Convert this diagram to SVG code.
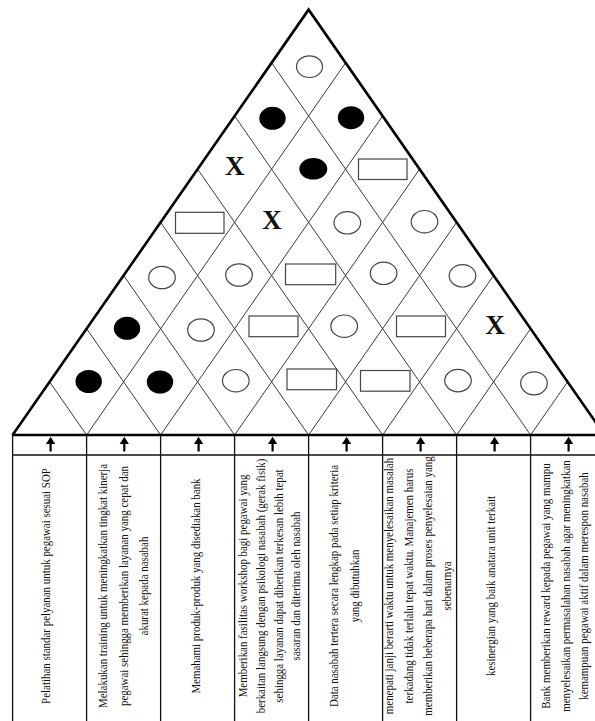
<svg xmlns="http://www.w3.org/2000/svg" width="595" height="721" viewBox="0 0 595 721">
<style>
.grid{stroke:#3a3a3a;stroke-width:1;fill:none}
.edge{stroke:#000;stroke-width:2.6;fill:none;stroke-linejoin:miter}
.tbl{stroke:#111;stroke-width:1.3;fill:none}
.oc{fill:#fff;stroke:#444;stroke-width:1.2}
.fc{fill:#000;stroke:none}
.rc{fill:#fff;stroke:#444;stroke-width:1.2}
.x{font-family:"Liberation Serif","Times New Roman",serif;font-weight:bold;font-size:27px;text-anchor:middle;fill:#111}
.t{font-family:"Liberation Serif","Times New Roman",serif;font-size:11.5px;text-anchor:middle;fill:#111}
.arr{fill:#000;stroke:none}
</style>
<defs>
<g id="arrow"><rect x="-1.1" y="442" width="2.2" height="9.5" class="arr"/><path d="M-4.6,444 L0,436.8 L4.6,444 Z" class="arr"/></g>
</defs>
<rect width="595" height="721" fill="#fff"/>

<g id="connectors">
<path class="grid" d="M86.6,435 L345.6,62.81 M86.6,435 L49.6,381.83
M160.6,435 L382.6,115.98 M160.6,435 L86.6,328.66
M234.6,435 L419.6,169.15 M234.6,435 L123.6,275.49
M308.6,435 L456.6,222.32 M308.6,435 L160.6,222.32
M382.6,435 L493.6,275.49 M382.6,435 L197.6,169.15
M456.6,435 L530.6,328.66 M456.6,435 L234.6,115.98
M530.6,435 L567.6,381.83 M530.6,435 L271.6,62.81"/>
</g>

<g id="triangle">
<path class="edge" d="M12.6,435 L308.6,9.64 L604.6,435"/>
</g>

<g id="symbols">
<g id="r6"><ellipse class="oc" cx="309.5" cy="66.7" rx="13" ry="10.8"/></g>
<g id="r5">
<ellipse class="fc" cx="272.5" cy="118.3" rx="13.2" ry="11.5"/>
<ellipse class="fc" cx="351" cy="117.7" rx="13.2" ry="11.5"/>
</g>
<g id="r4">
<text class="x" x="234.8" y="174.8">X</text>
<ellipse class="fc" cx="313.3" cy="168.8" rx="14" ry="10.8"/>
<rect class="rc" x="358.5" y="159" width="48.5" height="20.5"/>
</g>
<g id="r3">
<rect class="rc" x="175.5" y="212.3" width="48.5" height="21"/>
<text class="x" x="272" y="228.9">X</text>
<ellipse class="oc" cx="347.3" cy="222.8" rx="13.3" ry="11.2"/>
<ellipse class="oc" cx="424.5" cy="221.7" rx="13.3" ry="11.2"/>
</g>
<g id="r2">
<ellipse class="oc" cx="162" cy="277.5" rx="13.3" ry="11.2"/>
<ellipse class="oc" cx="239" cy="275" rx="13.3" ry="11.2"/>
<rect class="rc" x="285.5" y="264" width="50.2" height="20.7"/>
<ellipse class="oc" cx="383.6" cy="273.3" rx="13.3" ry="11.2"/>
<ellipse class="oc" cx="462.5" cy="275.8" rx="13.3" ry="11.2"/>
</g>
<g id="r1">
<ellipse class="fc" cx="127" cy="328.3" rx="13.2" ry="11.5"/>
<ellipse class="oc" cx="201" cy="330" rx="13.3" ry="11.2"/>
<rect class="rc" x="249" y="316" width="49" height="20.7"/>
<ellipse class="oc" cx="344.2" cy="326.2" rx="13.3" ry="11.2"/>
<rect class="rc" x="396.5" y="316" width="49" height="20.7"/>
<text class="x" x="495" y="334.4">X</text>
</g>
<g id="r0">
<ellipse class="fc" cx="88.7" cy="381.5" rx="13.2" ry="11.5"/>
<ellipse class="fc" cx="160" cy="382" rx="13.2" ry="11.5"/>
<ellipse class="oc" cx="235.8" cy="380.7" rx="13.3" ry="11.2"/>
<rect class="rc" x="287" y="369" width="49.5" height="20.7"/>
<rect class="rc" x="360.5" y="370.5" width="49.5" height="20.7"/>
<ellipse class="oc" cx="458" cy="380.6" rx="13.3" ry="11.2"/>
<ellipse class="oc" cx="534" cy="383.3" rx="13.3" ry="11.5"/>
</g>
</g>

<g id="table">
<line x1="12.6" y1="435" x2="595" y2="435" stroke="#000" stroke-width="2.6"/>
<line class="tbl" x1="12.6" y1="455" x2="595" y2="455"/>
<path class="tbl" d="M12.6,434 V721 M86.6,435 V721 M160.6,435 V721 M234.6,435 V721 M308.6,435 V721 M382.6,435 V721 M456.6,435 V721 M530.6,435 V721"/>
</g>

<g id="col1">
<use href="#arrow" x="50.6"/>
<text class="t" transform="translate(50,586) rotate(-90) scale(0.95,1)">Pelatihan  standar pelyanan untuk  pegawai sesuai SOP</text>
</g>
<g id="col2">
<use href="#arrow" x="124.3"/>
<text class="t" transform="translate(107,586) rotate(-90) scale(0.95,1)">Melakukan training untuk meningkatkan tingkat kinerja</text>
<text class="t" transform="translate(127.5,586) rotate(-90) scale(0.95,1)">pegawai sehingga memberikan layanan yang cepat dan</text>
<text class="t" transform="translate(147.5,586) rotate(-90) scale(0.95,1)">akurat kepada nasabah</text>
</g>
<g id="col3">
<use href="#arrow" x="198.6"/>
<text class="t" transform="translate(199.5,586) rotate(-90) scale(0.95,1)">Memahami produk-produk yang disediakan bank</text>
</g>
<g id="col4">
<use href="#arrow" x="272.6"/>
<text class="t" transform="translate(246.5,586) rotate(-90) scale(0.95,1)">Memberikan fasilitas workshop bagi pegawai yang</text>
<text class="t" transform="translate(265,586) rotate(-90) scale(0.95,1)">berkaitan langsung dengan psikologi nasabah (gerak fisik)</text>
<text class="t" transform="translate(282.5,586) rotate(-90) scale(0.95,1)">sehingga layanan dapat diberikan terkesan lebih tepat</text>
<text class="t" transform="translate(299.5,586) rotate(-90) scale(0.95,1)">sasaran dan diterima oleh nasabah</text>
</g>
<g id="col5">
<use href="#arrow" x="346.6"/>
<text class="t" transform="translate(337.5,586) rotate(-90) scale(0.95,1)">Data nasabah tertera secara lengkap pada setiap kriteria</text>
<text class="t" transform="translate(359,586) rotate(-90) scale(0.95,1)">yang dibutuhkan</text>
</g>
<g id="col6">
<use href="#arrow" x="420.6"/>
<text class="t" transform="translate(392.5,586) rotate(-90) scale(0.95,1)">menepati janji berarti waktu untuk menyelesaikan masalah</text>
<text class="t" transform="translate(413,586) rotate(-90) scale(0.95,1)">terkadang tidak terlalu tepat waktu. Manajemen harus</text>
<text class="t" transform="translate(432,586) rotate(-90) scale(0.95,1)">memberikan beberapa hari dalam proses penyelesaian yang</text>
<text class="t" transform="translate(451,586) rotate(-90) scale(0.95,1)">sebenarnya</text>
</g>
<g id="col7">
<use href="#arrow" x="494.6"/>
<text class="t" transform="translate(494.5,586) rotate(-90) scale(0.95,1)">kesinergian yang baik anatara unit terkait</text>
</g>
<g id="col8">
<use href="#arrow" x="568.6"/>
<text class="t" transform="translate(549.5,586) rotate(-90) scale(0.95,1)">Bank memberikan reward kepada pegawai yang mampu</text>
<text class="t" transform="translate(569.5,586) rotate(-90) scale(0.95,1)">menyelesaikan permasalahan nasabah agar meningkatkan</text>
<text class="t" transform="translate(588,586) rotate(-90) scale(0.95,1)">kemampuan pegawai aktif dalam merespon nasabah</text>
</g>
</svg>
